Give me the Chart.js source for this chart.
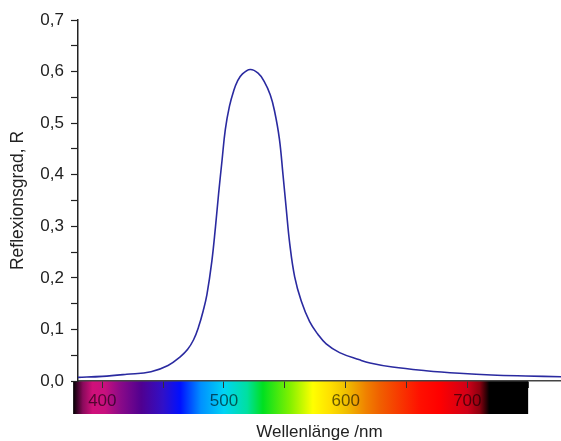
<!DOCTYPE html>
<html lang="de">

<head>
    <meta charset="UTF-8">
    <title>Reflexionsgrad</title>
    <script src="https://cdn.jsdelivr.net/npm/chart.js"></script>
    <style>
        html, body { margin: 0; padding: 0; background: #fff; }
        .chart-container { width: 561px; height: 441px; }
    </style>
</head>

<body>
    <div class="chart-container"><canvas id="reflexChart"></canvas></div>

    <script>
        // Wellenlänge (nm) und Reflexionsgrad
        const wavelengths = [380, 400, 420, 440, 454, 464, 470, 475, 479, 483, 486, 490, 493, 495.6, 498.4, 501.1,
            504.5, 508, 511, 515, 521.5, 528, 533, 538, 541.5, 545.5, 548.5, 551.2, 554, 558.1, 563.5, 570.4, 577,
            584, 595, 611.5, 620, 638.5, 666, 693.5, 720, 748, 777];
        const reflect = [0.007, 0.009, 0.013, 0.018, 0.030, 0.047, 0.061, 0.080, 0.104, 0.137, 0.168, 0.232, 0.299,
            0.364, 0.428, 0.488, 0.533, 0.563, 0.581, 0.595, 0.604, 0.597, 0.581, 0.555, 0.524, 0.470, 0.400, 0.333,
            0.267, 0.202, 0.155, 0.115, 0.091, 0.072, 0.055, 0.041, 0.035, 0.027, 0.020, 0.015, 0.0116, 0.0097, 0.0083];
        const xTicks = [400, 450, 500, 550, 600, 650, 700, 750];
        const yTicks = [0, 0.05, 0.1, 0.15, 0.2, 0.25, 0.3, 0.35, 0.4, 0.45, 0.5, 0.55, 0.6, 0.65, 0.7];

        // Spektrum unter der x-Achse
        const spectrumStops = [
            [376, '#000000'], [384, '#8a0a5c'], [392, '#d0107a'], [402, '#c8107e'], [415, '#8a0a88'],
            [432, '#500090'], [450, '#3010c8'], [464, '#0010ff'], [481, '#0090ff'], [500, '#00d4f4'],
            [519, '#00e0a0'], [532, '#00e020'], [554, '#80f000'], [573, '#ffff00'], [587, '#ffe000'],
            [600, '#f0c000'], [617, '#f08000'], [628, '#f06000'], [661, '#ff1000'], [677, '#ff0000'],
            [700, '#d00018'], [710, '#900010'], [718, '#000000'], [750, '#000000']
        ];

        const spectrumBar = {
            id: 'spectrumBar',
            beforeDraw(chart) {
                const { ctx, scales: { x }, chartArea } = chart;
                const x0 = x.getPixelForValue(spectrumStops[0][0]);
                const x1 = x.getPixelForValue(spectrumStops[spectrumStops.length - 1][0]);
                const grad = ctx.createLinearGradient(x0, 0, x1, 0);
                spectrumStops.forEach(s => {
                    grad.addColorStop((x.getPixelForValue(s[0]) - x0) / (x1 - x0), s[1]);
                });
                ctx.save();
                ctx.fillStyle = grad;
                ctx.fillRect(x0, chartArea.bottom, x1 - x0, 33);
                ctx.restore();
            }
        };

        const font = { family: 'Liberation Sans, Arial, sans-serif', size: 17 };

        new Chart(document.getElementById('reflexChart'), {
            type: 'line',
            data: {
                datasets: [{
                    data: wavelengths.map((w, i) => ({ x: w, y: reflect[i] })),
                    borderColor: '#2a2aa0',
                    borderWidth: 1.6,
                    pointRadius: 0,
                    tension: 0.4,
                    fill: false
                }]
            },
            options: {
                responsive: true,
                maintainAspectRatio: false,
                animation: false,
                layout: { padding: { top: 20, right: 0, bottom: 0, left: 0 } },
                plugins: { legend: { display: false }, tooltip: { enabled: false } },
                scales: {
                    x: {
                        type: 'linear',
                        min: 380,
                        max: 777,
                        afterBuildTicks: s => { s.ticks = xTicks.map(v => ({ value: v })); },
                        afterFit: s => { s.height = 60; },
                        border: { color: '#444', width: 1.5 },
                        grid: { drawOnChartArea: false, tickLength: 7, color: '#333', tickWidth: 1 },
                        ticks: {
                            font, color: 'rgba(0,0,0,0.6)', padding: 3, maxRotation: 0, autoSkip: false,
                            callback: v => (v % 100 === 0 ? String(v) : '')
                        },
                        title: {
                            display: true, text: 'Wellenlänge /nm', font: { ...font, lineHeight: 1 },
                            color: '#222', padding: { top: 0, bottom: 0 }
                        }
                    },
                    y: {
                        min: 0,
                        max: 0.7,
                        afterBuildTicks: s => { s.ticks = yTicks.map(v => ({ value: v })); },
                        afterFit: s => { s.width = 78; },
                        border: { color: '#222', width: 1.5 },
                        grid: { drawOnChartArea: false, tickLength: 7, color: '#222', tickWidth: 1.2 },
                        ticks: {
                            font, color: '#222', padding: 7, autoSkip: false,
                            callback: v => (Math.round(v * 100) % 10 === 0 ? v.toFixed(1).replace('.', ',') : '')
                        },
                        title: {
                            display: true, text: 'Reflexionsgrad, R', font: { ...font, size: 17.5 },
                            color: '#222', padding: { top: 8, bottom: 0 }
                        }
                    }
                }
            },
            plugins: [spectrumBar]
        });
    </script>
</body>

</html>
